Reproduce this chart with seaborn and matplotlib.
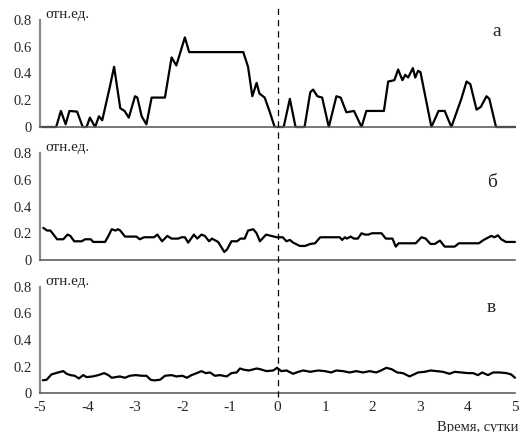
import numpy as np
import pandas as pd
import matplotlib
matplotlib.use("Agg")
import matplotlib.pyplot as plt
import matplotlib.transforms as mtransforms
from matplotlib.lines import Line2D
import seaborn as sns

# ---- data ----
t_a = [-4.96, -4.66, -4.56, -4.46, -4.38, -4.22, -4.10, -4.02, -3.95, -3.84, -3.76, -3.69,
       -3.53, -3.44, -3.31, -3.22, -3.13, -3.00, -2.95, -2.86, -2.76, -2.65, -2.37, -2.23,
       -2.13, -1.95, -1.86, -0.72, -0.62, -0.53, -0.44, -0.38, -0.27, -0.17, -0.06, 0.13,
       0.26, 0.38, 0.57, 0.69, 0.75, 0.84, 0.94, 1.08, 1.24, 1.33, 1.45, 1.61, 1.77, 1.87,
       2.24, 2.33, 2.46, 2.54, 2.63, 2.69, 2.75, 2.85, 2.90, 2.96, 3.01, 3.10, 3.24, 3.39,
       3.52, 3.66, 3.77, 3.87, 3.98, 4.06, 4.19, 4.28, 4.40, 4.46, 4.60, 5.00]
v_a = [0.0, 0.0, 0.12, 0.02, 0.12, 0.115, 0.0, 0.0, 0.07, 0.0, 0.08, 0.05,
       0.30, 0.45, 0.14, 0.12, 0.07, 0.23, 0.22, 0.08, 0.02, 0.22, 0.22, 0.52,
       0.46, 0.67, 0.56, 0.56, 0.45, 0.23, 0.33, 0.25, 0.22, 0.12, 0.0, 0.0,
       0.21, 0.0, 0.0, 0.26, 0.28, 0.23, 0.22, 0.0, 0.23, 0.22, 0.11, 0.12, 0.0, 0.12,
       0.12, 0.34, 0.35, 0.43, 0.35, 0.39, 0.37, 0.44, 0.37, 0.42, 0.41, 0.25, 0.0, 0.12,
       0.12, 0.0, 0.11, 0.21, 0.34, 0.32, 0.13, 0.15, 0.23, 0.21, 0.0, 0.0]

t_b = [-4.93, -4.85, -4.78, -4.64, -4.51, -4.42, -4.36, -4.28, -4.12, -4.05, -3.93, -3.88,
       -3.63, -3.56, -3.49, -3.41, -3.36, -3.31, -3.21, -2.97, -2.90, -2.81, -2.60, -2.53,
       -2.43, -2.32, -2.23, -2.09, -2.02, -1.95, -1.88, -1.76, -1.69, -1.60, -1.53, -1.44,
       -1.38, -1.25, -1.18, -1.12, -1.06, -0.97, -0.85, -0.78, -0.69, -0.62, -0.51, -0.44,
       -0.37, -0.24, -0.13, -0.02, 0.11, 0.19, 0.26, 0.33, 0.47, 0.58, 0.69, 0.79, 0.90,
       0.98, 1.31, 1.36, 1.42, 1.46, 1.54, 1.61, 1.69, 1.77, 1.84, 1.91, 1.99, 2.19, 2.28,
       2.42, 2.49, 2.55, 2.91, 3.03, 3.12, 3.22, 3.31, 3.42, 3.52, 3.73, 3.82, 4.24, 4.34,
       4.50, 4.57, 4.64, 4.71, 4.81, 5.00]
v_b = [0.24, 0.22, 0.22, 0.155, 0.155, 0.19, 0.18, 0.14, 0.14, 0.155, 0.155, 0.135,
       0.135, 0.18, 0.23, 0.22, 0.23, 0.22, 0.175, 0.175, 0.155, 0.17, 0.17, 0.19,
       0.14, 0.18, 0.16, 0.16, 0.17, 0.17, 0.13, 0.19, 0.16, 0.19, 0.18, 0.14,
       0.16, 0.135, 0.095, 0.06, 0.08, 0.14, 0.14, 0.16, 0.16, 0.22, 0.23, 0.20,
       0.14, 0.19, 0.18, 0.17, 0.17, 0.14, 0.15, 0.13, 0.105, 0.105, 0.12, 0.125, 0.17,
       0.17, 0.17, 0.15, 0.17, 0.16, 0.175, 0.16, 0.16, 0.20, 0.19, 0.19, 0.20, 0.20, 0.16,
       0.16, 0.10, 0.125, 0.125, 0.17, 0.16, 0.12, 0.12, 0.145, 0.10, 0.10, 0.125, 0.125, 0.15,
       0.18, 0.17, 0.185, 0.155, 0.135, 0.135]

t_c = [-4.94, -4.86, -4.76, -4.62, -4.51, -4.44, -4.36, -4.27, -4.18, -4.09, -4.02, -3.89,
       -3.77, -3.65, -3.56, -3.49, -3.32, -3.21, -3.11, -2.98, -2.86, -2.76, -2.67, -2.60,
       -2.47, -2.37, -2.23, -2.13, -2.00, -1.91, -1.81, -1.70, -1.60, -1.51, -1.42, -1.32,
       -1.21, -1.07, -0.97, -0.86, -0.79, -0.70, -0.60, -0.44, -0.37, -0.23, -0.09, -0.01,
       0.08, 0.19, 0.33, 0.44, 0.54, 0.69, 0.86, 1.00, 1.13, 1.24, 1.38, 1.52, 1.66, 1.80,
       1.94, 2.08, 2.18, 2.29, 2.40, 2.52, 2.64, 2.78, 2.87, 2.96, 3.10, 3.22, 3.35, 3.48,
       3.62, 3.73, 3.87, 4.01, 4.12, 4.22, 4.31, 4.43, 4.54, 4.68, 4.82, 4.92, 5.00]
v_c = [0.096, 0.10, 0.14, 0.155, 0.165, 0.145, 0.135, 0.13, 0.11, 0.135, 0.12, 0.125,
       0.135, 0.15, 0.135, 0.115, 0.125, 0.115, 0.13, 0.135, 0.13, 0.13, 0.10, 0.095,
       0.10, 0.13, 0.135, 0.125, 0.13, 0.115, 0.135, 0.15, 0.165, 0.15, 0.155, 0.13,
       0.135, 0.125, 0.15, 0.155, 0.185, 0.175, 0.17, 0.185, 0.18, 0.165, 0.17, 0.19,
       0.165, 0.17, 0.145, 0.16, 0.17, 0.16, 0.17, 0.165, 0.155, 0.17, 0.165, 0.155, 0.165, 0.155,
       0.165, 0.155, 0.17, 0.19, 0.18, 0.155, 0.15, 0.125, 0.14, 0.155, 0.16, 0.17, 0.165, 0.16,
       0.145, 0.16, 0.155, 0.15, 0.15, 0.135, 0.155, 0.135, 0.155, 0.155, 0.15, 0.14, 0.115]

panel_letters = ["а", "б", "в"]
y_ticks = [0, 0.2, 0.4, 0.6, 0.8]
y_tick_labels = ["0", "0.2", "0.4", "0.6", "0.8"]
x_ticks = [-5, -4, -3, -2, -1, 0, 1, 2, 3, 4, 5]
x_tick_labels = ["-5", "-4", "-3", "-2", "-1", "0", "1", "2", "3", "4", "5"]
unit_label = "отн.ед."
x_label = "Время, сутки"

# ---- style ----
sns.set_style("white")
plt.rcParams["font.family"] = ["Liberation Serif", "DejaVu Serif"]

fig = plt.figure(figsize=(5.2, 4.32), dpi=100)
W, H = 520.0, 432.0
left, right = 40 / W, 515 / W
boxes = [(20, 127), (153, 260), (287, 393)]
series = [(t_a, v_a), (t_b, v_b), (t_c, v_c)]
letter_pos = [(0.962, 0.89), (0.951, 0.72), (0.951, 0.81)]

axes = []
for i, ((top, bot), (t, v)) in enumerate(zip(boxes, series)):
    ax = fig.add_axes([left, 1 - bot / H, right - left, (bot - top) / H])
    df = pd.DataFrame({"t": t, "v": v})
    sns.lineplot(data=df, x="t", y="v", ax=ax, color="black", linewidth=1.6,
                 estimator=None, sort=False)
    for ln in ax.lines:
        ln.set_clip_on(False)
    ax.set_xlim(-5, 5)
    ax.set_ylim(0, 0.8)
    ax.set_xlabel("")
    ax.set_ylabel("")
    ax.set_yticks(y_ticks)
    ax.set_yticklabels(y_tick_labels)
    ax.set_xticks(x_ticks)
    if i == 2:
        ax.set_xticklabels(x_tick_labels)
    else:
        ax.set_xticklabels([])
    ax.tick_params(axis="y", direction="out", length=4, width=1, color="#808080",
                   labelsize=10.5, pad=2)
    ax.tick_params(axis="x", direction="out", length=5, width=1, color="#606060",
                   labelsize=11, pad=1)
    for s in ["top", "right"]:
        ax.spines[s].set_visible(False)
    ax.spines["left"].set_color("#8a8a8a")
    ax.spines["left"].set_linewidth(1.6)
    ax.spines["bottom"].set_color("#606060")
    ax.spines["bottom"].set_linewidth(1.2)
    ax.text(0.012, 1.02, unit_label, transform=ax.transAxes, fontsize=11,
            ha="left", va="baseline")
    ax.text(letter_pos[i][0], letter_pos[i][1], panel_letters[i], transform=ax.transAxes,
            fontsize=14, ha="center", va="center")
    axes.append(ax)

# vertical dashed line at t = 0 through all panels
trans = mtransforms.blended_transform_factory(axes[2].transData, fig.transFigure)
fig.add_artist(Line2D([0, 0], [1 - 397 / H, 1 - 5 / H], transform=trans,
                      color="black", linewidth=0.9, linestyle=(0, (5, 4))))

fig.text(518 / W, 1 - 427 / H, x_label, fontsize=10.5, ha="right", va="center")

fig.savefig("out.png", dpi=100)
